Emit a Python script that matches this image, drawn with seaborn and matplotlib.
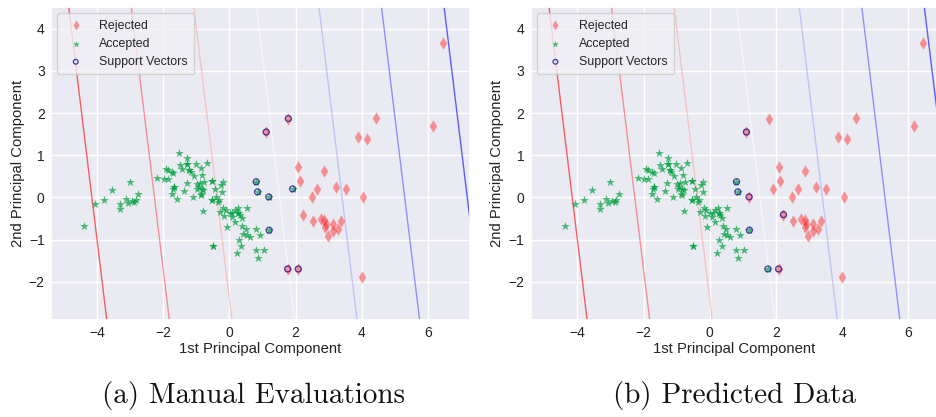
import numpy as np
import pandas as pd
import matplotlib
matplotlib.use("Agg")
import matplotlib.pyplot as plt
import seaborn as sns

# ---------------- data ----------------
accepted_pc1 = [-4.38, -4.06, -3.80, -3.55, -3.01, -3.32, -3.32, -3.12, -3.07, -2.95, -2.87, -2.82, -2.75,
                -1.53, -1.27, -1.27, -1.27, -1.49, -1.02, -0.69, -1.92, -1.85, -1.74, -1.69, -1.44, -1.21,
                -1.21, -1.16, -0.86, -1.07, -0.82, -2.18, -1.98, -1.85, -1.29, -0.99, -0.89, -0.76, -0.92,
                -0.84, -0.97, -0.79, -0.87, -1.67, -1.67, -1.71, -1.74, -1.59, -1.36, -1.11, -0.85, -0.52,
                -0.52, -0.53, -0.53, -0.43, -0.40, -0.31, -0.25, -0.20, -0.21, -0.34, -0.79, -0.28, -0.18,
                -0.10, -0.15, 0.02, 0.09, 0.17, 0.25, 0.52, 0.27, 0.27, 0.32, 0.37, 0.07, 0.17, -0.08,
                0.39, 0.49, 0.81, 0.42, 0.53, 0.62, 0.92, 0.28, 0.36, 0.22, 0.79, 1.05, 0.87, -0.49, -0.49]
accepted_pc2 = [-0.67, -0.16, -0.07, 0.17, 0.36, -0.16, -0.27, -0.05, -0.14, -0.09, -0.12, -0.07, 0.08,
                1.05, 0.93, 0.79, 0.79, 0.77, 0.78, 0.81, 0.67, 0.65, 0.61, 0.58, 0.67, 0.65,
                0.65, 0.61, 0.70, 0.51, 0.53, 0.47, 0.43, 0.43, 0.35, 0.31, 0.35, 0.37, 0.24,
                0.21, 0.19, 0.17, 0.08, 0.25, 0.25, 0.21, 0.08, -0.04, 0.16, 0.00, 0.05, 0.39,
                0.39, -0.06, -0.06, 0.19, 0.01, -0.06, 0.29, 0.37, 0.12, -0.12, -0.32, -0.35, -0.26,
                -0.29, -0.44, -0.36, -0.38, -0.30, -0.26, -0.26, -0.38, -0.38, -0.42, -0.50, -0.46, -0.59, -0.70,
                -0.68, -0.74, -0.75, -0.86, -0.90, -0.94, -0.90, -1.01, -1.16, -1.32, -1.25, -1.26, -1.45, -1.16, -1.16]

rejected_pc1 = [6.46, 4.42, 6.16, 3.88, 4.15, 2.08, 2.87, 2.13, 2.66, 3.22, 3.52, 2.50, 4.05,
                2.53, 2.76, 2.87, 2.91, 2.89, 3.12, 3.37, 3.27, 3.13, 2.97, 4.01]
rejected_pc2 = [3.66, 1.88, 1.69, 1.44, 1.39, 0.73, 0.62, 0.39, 0.21, 0.24, 0.20, 0.01, 0.02,
                -0.57, -0.52, -0.54, -0.64, -0.70, -0.63, -0.56, -0.76, -0.80, -0.92, -1.90]

# points whose class / support-vector status differs between the two panels
border_pc1 = [1.78, 1.11, 0.81, 0.85, 1.91, 1.19, 1.20, 2.23, 1.76, 2.08]
border_pc2 = [1.87, 1.55, 0.37, 0.13, 0.20, 0.01, -0.78, -0.41, -1.70, -1.70]
border_manual = ["Rejected", "Rejected", "Accepted", "Accepted", "Accepted",
                 "Accepted", "Accepted", "Rejected", "Rejected", "Rejected"]
border_predicted = ["Rejected", "Rejected", "Accepted", "Accepted", "Rejected",
                    "Rejected", "Accepted", "Rejected", "Accepted", "Rejected"]
manual_sv = [1, 1, 1, 1, 1, 1, 1, 0, 1, 1]
predicted_sv = [0, 1, 1, 1, 0, 1, 1, 1, 1, 1]

# linear SVM decision function f = w1*pc1 + w2*pc2 + b, contour levels
svm_w = [0.529, 0.082]
svm_b = -0.802
levels = [-3, -2, -1, 0, 1, 2, 3]

xtick_vals = [-4, -2, 0, 2, 4, 6]
ytick_vals = [-2, -1, 0, 1, 2, 3, 4]
captions = ["(a) Manual Evaluations", "(b) Predicted Data"]

# ---------------- styling ----------------
sns.set_theme(style="darkgrid")
plt.rcParams["font.family"] = ["Liberation Sans", "DejaVu Sans"]

RED = "#ff2020"
GREEN = "#00a040"
SVC = "#1a1090"


def build_frame(border_cls, sv_flags):
    rows = []
    for x, y in zip(accepted_pc1, accepted_pc2):
        rows.append((x, y, "Accepted", 0))
    for x, y in zip(rejected_pc1, rejected_pc2):
        rows.append((x, y, "Rejected", 0))
    for x, y, c, s in zip(border_pc1, border_pc2, border_cls, sv_flags):
        rows.append((x, y, c, s))
    return pd.DataFrame(rows, columns=["pc1", "pc2", "cls", "sv"])


def draw(ax, df, xlim):
    gx = np.linspace(-6, 8, 300)
    gy = np.linspace(-3.5, 5, 300)
    XX, YY = np.meshgrid(gx, gy)
    F = svm_w[0] * XX + svm_w[1] * YY + svm_b
    ax.contour(XX, YY, F, levels=levels, cmap="bwr_r", linewidths=1.0, alpha=0.6, zorder=2)

    rej = df[df.cls == "Rejected"]
    acc = df[df.cls == "Accepted"]
    sv = df[df.sv == 1]
    sns.scatterplot(x=rej.pc1, y=rej.pc2, ax=ax, marker="d", color=RED, alpha=0.45,
                    s=40, linewidth=0, label="Rejected", zorder=3)
    sns.scatterplot(x=acc.pc1, y=acc.pc2, ax=ax, marker="*", color=GREEN, alpha=0.7,
                    s=42, linewidth=0, label="Accepted", zorder=3)
    sns.scatterplot(x=sv.pc1, y=sv.pc2, ax=ax, marker="o", color=SVC, facecolor="none",
                    edgecolor=SVC, alpha=0.75, s=18, linewidth=1.0, label="Support Vectors", zorder=4)

    ax.set_xlim(*xlim)
    ax.set_ylim(-2.91, 4.51)
    ax.set_xticks(xtick_vals)
    ax.set_yticks(ytick_vals)
    ax.tick_params(labelsize=10, colors="#222222", length=0, pad=4.5)
    ax.set_xlabel("1st Principal Component", fontsize=10.7, color="#222222", labelpad=1)
    ax.set_ylabel("2nd Principal Component", fontsize=10.7, color="#222222", labelpad=3)
    leg = ax.legend(loc="upper left", fontsize=8.9, frameon=True, scatterpoints=1,
                    markerscale=0.8, handletextpad=0.9, borderpad=0.5)
    leg.get_frame().set_facecolor("#f0f0f5")
    leg.get_frame().set_edgecolor("#cccccc")


fig = plt.figure(figsize=(9.37, 4.17), dpi=100)
ax1 = fig.add_axes([51 / 937, 97 / 417, 419 / 937, 312.7 / 417])
ax2 = fig.add_axes([530.7 / 937, 97 / 417, 406.3 / 937, 312.7 / 417])

draw(ax1, build_frame(border_manual, manual_sv), (-5.39, 7.27))
draw(ax2, build_frame(border_predicted, predicted_sv), (-5.41, 6.87))

fig.text(254 / 937, 1 - 396 / 417, captions[0], family="cmr10", fontsize=21,
         ha="center", va="center", color="#111111")
fig.text(735 / 937, 1 - 396 / 417, captions[1], family="cmr10", fontsize=21,
         ha="center", va="center", color="#111111")

fig.savefig("out.png", dpi=100)
